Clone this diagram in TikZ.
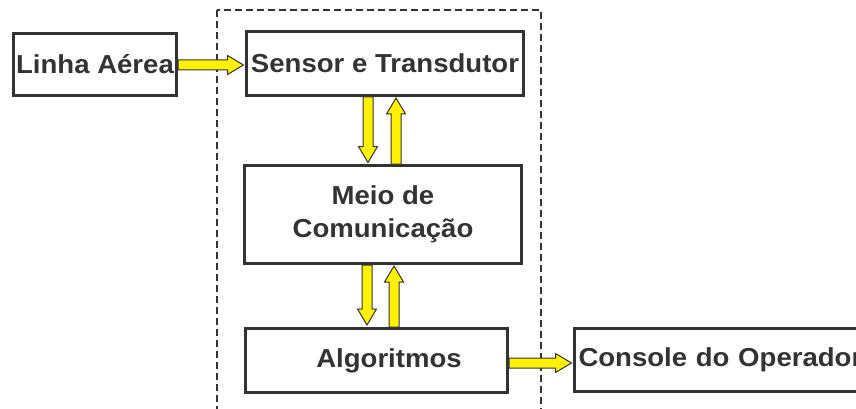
\documentclass[tikz,border=0pt]{standalone}
\usepackage{fontspec}
\setmainfont{Liberation Sans}[FakeStretch=1.06]
\usetikzlibrary{calc}
\definecolor{ink}{HTML}{333333}
\definecolor{flow}{HTML}{FFF200}
\tikzset{
  box/.style={draw=ink, line width=3pt, fill=white, text=ink, inner sep=0pt,
    font=\fontsize{26}{33}\selectfont\bfseries, align=center},
  frame/.style={draw=ink, line width=1.2pt, dash pattern=on 7pt off 4pt},
  fatarrow/.style={draw=ink, line width=1pt, fill=flow, line join=miter},
}
% broad block arrow from #1 to #2 (tip at #2)
\newcommand\fatarrow[2]{%
  \coordinate (fa0) at #1;
  \coordinate (fa1) at #2;
  \coordinate (fan) at ($(fa1)!16pt!(fa0)$);
  \draw[fatarrow]
    ($(fa0)!5pt!90:(fa1)$) -- ($(fan)!5pt!90:(fa1)$) -- ($(fan)!9.5pt!90:(fa1)$)
    -- (fa1)
    -- ($(fan)!9.5pt!-90:(fa1)$) -- ($(fan)!5pt!-90:(fa1)$) -- ($(fa0)!5pt!-90:(fa1)$)
    -- cycle;
}
\begin{document}
\begin{tikzpicture}[x=1pt, y=-1pt]
\useasboundingbox (0,0) rectangle (856,409);
\clip (0,0) rectangle (856,409);

% dashed boundary of the monitoring system
\draw[frame] (217,10) rectangle (541,430);

\node[box, minimum width=163pt, minimum height=62pt] (lin) at (95,64.5) {Linha Aérea};
\node[box, minimum width=277pt, minimum height=64pt] (sen) at (385,63.5) {Sensor e Transdutor};
\node[box, minimum width=277pt, minimum height=98pt] (meio) at (383,214.5) {Meio de\\Comunicação};
\node[box, minimum width=262pt, minimum height=64pt] (alg) at (376.5,360.5) {\hspace*{25pt}Algoritmos};
\node[box, minimum width=302pt, minimum height=63pt, anchor=west, text width=294pt, align=left]
  (con) at (573,360) {Console do Operador};

% data flow
\fatarrow{(lin.east |- 0,65)}{([xshift=-1.5pt]sen.west |- 0,65)}
\fatarrow{(sen.south -| 368,0)}{([yshift=1.5pt]meio.north -| 368,0)}
\fatarrow{(meio.north -| 396,0)}{([yshift=-1pt]sen.south -| 396,0)}
\fatarrow{(meio.south -| 367,0)}{([yshift=2pt]alg.north -| 367,0)}
\fatarrow{(alg.north -| 394,0)}{([yshift=-1pt]meio.south -| 394,0)}
\fatarrow{(alg.east |- 0,363)}{([xshift=-1.5pt]con.west |- 0,363)}
\end{tikzpicture}
\end{document}
